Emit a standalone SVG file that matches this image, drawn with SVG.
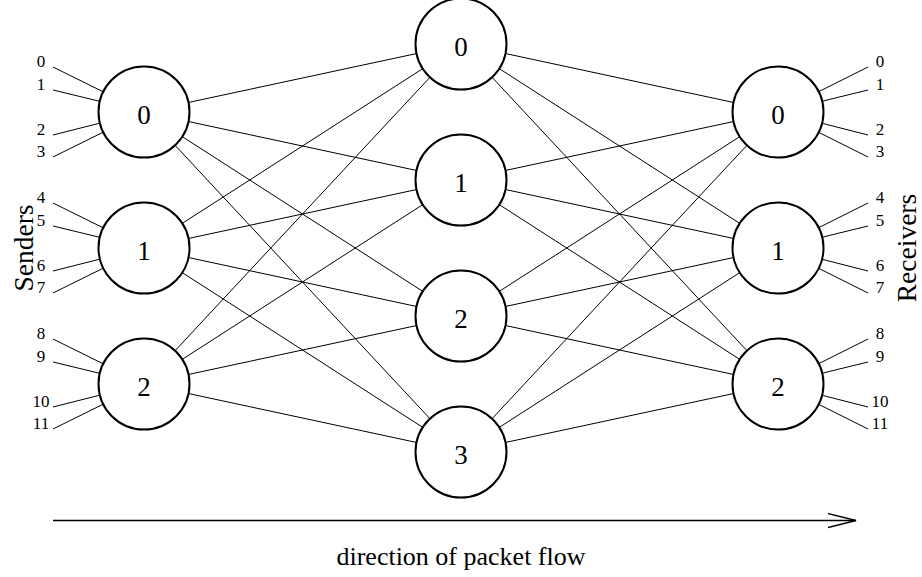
<svg xmlns="http://www.w3.org/2000/svg" width="922" height="577" viewBox="0 0 922 577">
  <style>
    .edge { stroke: #000; stroke-width: 1; fill: none; }
    .node circle { fill: #fff; stroke: #000; stroke-width: 2; }
    .node text { font-family: "Liberation Serif", "Times New Roman", serif; font-size: 27px; text-anchor: middle; fill: #000; }
    .port { font-family: "Liberation Serif", "Times New Roman", serif; font-size: 17px; text-anchor: middle; fill: #000; }
    .side { font-family: "Liberation Serif", "Times New Roman", serif; font-size: 27.5px; text-anchor: middle; fill: #000; }
    .caption { font-family: "Liberation Serif", "Times New Roman", serif; font-size: 26px; text-anchor: middle; fill: #000; }
    .flow { stroke: #000; stroke-width: 1.3; fill: none; }
  </style>
  <defs>
    <marker id="openhead" markerUnits="userSpaceOnUse" viewBox="0 0 30 16" markerWidth="30" markerHeight="16" refX="28" refY="8" orient="auto">
      <path d="M0,1 L28,8 L0,15" fill="none" stroke="#000" stroke-width="1.3"/>
    </marker>
  </defs>

  <rect width="922" height="577" fill="#fff"/>

  <!-- connectors: centre to centre, circles are painted over them -->
  <g id="connectors" class="edge">
    <!-- input ports to sender switches -->
    <line x1="53" y1="67" x2="144" y2="112"/>
    <line x1="53" y1="90" x2="144" y2="112"/>
    <line x1="53" y1="135" x2="144" y2="112"/>
    <line x1="53" y1="157" x2="144" y2="112"/>
    <line x1="53" y1="203" x2="144" y2="248"/>
    <line x1="53" y1="226" x2="144" y2="248"/>
    <line x1="53" y1="271" x2="144" y2="248"/>
    <line x1="53" y1="293" x2="144" y2="248"/>
    <line x1="53" y1="339" x2="144" y2="384"/>
    <line x1="53" y1="362" x2="144" y2="384"/>
    <line x1="53" y1="407" x2="144" y2="384"/>
    <line x1="53" y1="429" x2="144" y2="384"/>

    <!-- sender stage to middle stage -->
    <line x1="144" y1="112" x2="461" y2="44"/>
    <line x1="144" y1="112" x2="461" y2="180"/>
    <line x1="144" y1="112" x2="461" y2="316"/>
    <line x1="144" y1="112" x2="461" y2="452"/>
    <line x1="144" y1="248" x2="461" y2="44"/>
    <line x1="144" y1="248" x2="461" y2="180"/>
    <line x1="144" y1="248" x2="461" y2="316"/>
    <line x1="144" y1="248" x2="461" y2="452"/>
    <line x1="144" y1="384" x2="461" y2="44"/>
    <line x1="144" y1="384" x2="461" y2="180"/>
    <line x1="144" y1="384" x2="461" y2="316"/>
    <line x1="144" y1="384" x2="461" y2="452"/>

    <!-- middle stage to receiver stage -->
    <line x1="461" y1="44" x2="778" y2="112"/>
    <line x1="461" y1="44" x2="778" y2="248"/>
    <line x1="461" y1="44" x2="778" y2="384"/>
    <line x1="461" y1="180" x2="778" y2="112"/>
    <line x1="461" y1="180" x2="778" y2="248"/>
    <line x1="461" y1="180" x2="778" y2="384"/>
    <line x1="461" y1="316" x2="778" y2="112"/>
    <line x1="461" y1="316" x2="778" y2="248"/>
    <line x1="461" y1="316" x2="778" y2="384"/>
    <line x1="461" y1="452" x2="778" y2="112"/>
    <line x1="461" y1="452" x2="778" y2="248"/>
    <line x1="461" y1="452" x2="778" y2="384"/>

    <!-- receiver switches to output ports -->
    <line x1="778" y1="112" x2="868" y2="67"/>
    <line x1="778" y1="112" x2="868" y2="90"/>
    <line x1="778" y1="112" x2="868" y2="135"/>
    <line x1="778" y1="112" x2="868" y2="157"/>
    <line x1="778" y1="248" x2="868" y2="203"/>
    <line x1="778" y1="248" x2="868" y2="226"/>
    <line x1="778" y1="248" x2="868" y2="271"/>
    <line x1="778" y1="248" x2="868" y2="293"/>
    <line x1="778" y1="384" x2="868" y2="339"/>
    <line x1="778" y1="384" x2="868" y2="362"/>
    <line x1="778" y1="384" x2="868" y2="407"/>
    <line x1="778" y1="384" x2="868" y2="429"/>
  </g>

  <!-- sender stage -->
  <g id="sender-0" class="node"><circle cx="144" cy="112" r="45.5"/><text x="144" y="124">0</text></g>
  <g id="sender-1" class="node"><circle cx="144" cy="248" r="45.5"/><text x="144" y="260">1</text></g>
  <g id="sender-2" class="node"><circle cx="144" cy="384" r="45.5"/><text x="144" y="396">2</text></g>

  <!-- middle stage -->
  <g id="middle-0" class="node"><circle cx="461" cy="44" r="45.5"/><text x="461" y="56">0</text></g>
  <g id="middle-1" class="node"><circle cx="461" cy="180" r="45.5"/><text x="461" y="192">1</text></g>
  <g id="middle-2" class="node"><circle cx="461" cy="316" r="45.5"/><text x="461" y="328">2</text></g>
  <g id="middle-3" class="node"><circle cx="461" cy="452" r="45.5"/><text x="461" y="464">3</text></g>

  <!-- receiver stage -->
  <g id="receiver-0" class="node"><circle cx="778" cy="112" r="45.5"/><text x="778" y="124">0</text></g>
  <g id="receiver-1" class="node"><circle cx="778" cy="248" r="45.5"/><text x="778" y="260">1</text></g>
  <g id="receiver-2" class="node"><circle cx="778" cy="384" r="45.5"/><text x="778" y="396">2</text></g>

  <!-- port numbers -->
  <g id="input-ports" class="port">
    <text x="41" y="67">0</text><text x="41" y="90">1</text><text x="41" y="135">2</text><text x="41" y="157">3</text>
    <text x="41" y="203">4</text><text x="41" y="226">5</text><text x="41" y="271">6</text><text x="41" y="293">7</text>
    <text x="41" y="339">8</text><text x="41" y="362">9</text><text x="41" y="407">10</text><text x="41" y="429">11</text>
  </g>
  <g id="output-ports" class="port">
    <text x="880" y="67">0</text><text x="880" y="90">1</text><text x="880" y="135">2</text><text x="880" y="157">3</text>
    <text x="880" y="203">4</text><text x="880" y="226">5</text><text x="880" y="271">6</text><text x="880" y="293">7</text>
    <text x="880" y="339">8</text><text x="880" y="362">9</text><text x="880" y="407">10</text><text x="880" y="429">11</text>
  </g>

  <!-- side titles -->
  <text class="side" x="33" y="248" transform="rotate(-90 33 248)">Senders</text>
  <text class="side" x="916" y="248" transform="rotate(-90 916 248)">Receivers</text>

  <!-- flow direction -->
  <g id="flow">
    <line class="flow" x1="53" y1="520.5" x2="856" y2="520.5" marker-end="url(#openhead)"/>
    <text class="caption" x="461" y="565">direction of packet flow</text>
  </g>
</svg>
